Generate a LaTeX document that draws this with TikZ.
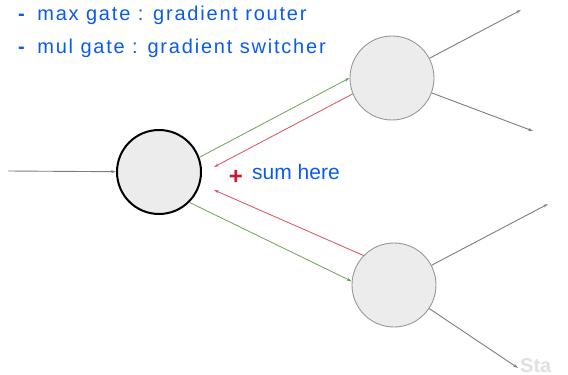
\documentclass[tikz,border=0pt]{standalone}
\usepackage{fontspec}
\setmainfont{Liberation Sans}
\newfontfamily\handfont[LetterSpace=9]{Liberation Sans}
\usetikzlibrary{arrows.meta}
\definecolor{inkblue}{RGB}{10,90,235}
\definecolor{fwdgreen}{RGB}{110,160,90}
\definecolor{backred}{RGB}{215,80,95}
\definecolor{plusred}{RGB}{205,25,45}
\definecolor{nodefill}{RGB}{236,236,236}
\definecolor{edgegray}{RGB}{125,125,125}
\tikzset{
  gate/.style={circle, minimum size=84pt, inner sep=0pt, fill=nodefill, draw=edgegray!80, line width=0.9pt},
  maingate/.style={gate, draw=black, line width=2pt},
  wire/.style={draw=edgegray, line width=0.9pt, -{Stealth[length=5pt,width=3pt]}},
  fwd/.style={draw=fwdgreen, line width=0.8pt, -{Stealth[length=5pt,width=3pt]}},
  back/.style={draw=backred, line width=0.8pt, -{Stealth[length=5pt,width=3pt]}},
  note/.style={text=inkblue, font=\handfont\fontsize{20}{20}\selectfont, anchor=west, inner sep=0pt}
}
\begin{document}
\begin{tikzpicture}[x=1pt,y=-1pt]
\useasboundingbox (0,0) rectangle (568,375);
\clip (0,0) rectangle (568,375);

% handwritten notes
\node[note] (n1) at (18,15) {\textbf{-}\, max gate : gradient router};
\node[note] (n2) at (18,48) {\textbf{-}\, mul gate : gradient switcher};

% gates
\node[maingate] (m) at (159,172) {};
\node[gate] (t) at (392,78) {};
\node[gate] (b) at (394,285) {};

% input and outputs
\coordinate (in) at (8,171);
\coordinate (t1) at (521,10);
\coordinate (t2) at (533,131);
\coordinate (b1) at (548,204);
\coordinate (b2) at (518,368);
\draw[wire] (in) -- (m);
\draw[wire] (t) -- (t1);
\draw[wire] (t) -- (t2);
\draw[wire] (b) -- (b1);
\draw[wire] (b) -- (b2);

% forward (green) and backward (red) flow
\coordinate (r1) at (214,167);
\coordinate (r2) at (214,190);
\draw[fwd] (m.20) -- (t.180);
\draw[back] (t.202) -- (r1);
\draw[fwd] (m.-45) -- (b.175);
\draw[back] (b.136) -- (r2);

% sum annotation
\node[text=plusred, font=\bfseries\fontsize{24}{24}\selectfont, inner sep=0pt] (plus) at (236,177) {+};
\node[note, font=\fontsize{21}{21}\selectfont] (sum) at (252,172) {sum here};

% faint watermark
\node[text=black!12, font=\bfseries\fontsize{20}{20}\selectfont, anchor=north west, inner sep=0pt] (wm) at (520,358) {Sta};
\end{tikzpicture}
\end{document}
